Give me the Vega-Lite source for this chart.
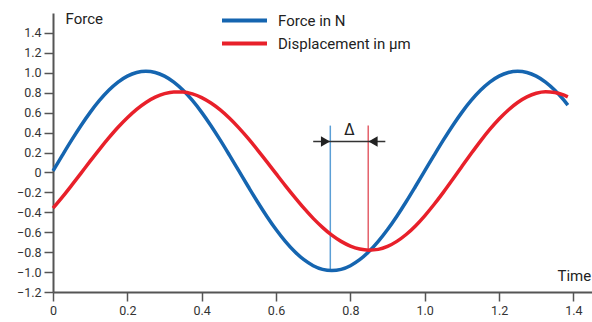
{
  "$schema": "https://vega.github.io/schema/vega-lite/v6.json",
  "width": 539,
  "height": 279,
  "autosize": {"type": "none"},
  "padding": {"left": 53, "top": 13, "right": 0, "bottom": 30},
  "background": "white",
  "config": {
    "view": {"stroke": null},
    "font": "Roboto"
  },
  "datasets": {
    "curves": [
      {"t": 0, "v": 0.015, "s": "Force in N"},
      {"t": 0.025, "v": 0.171, "s": "Force in N"},
      {"t": 0.05, "v": 0.324, "s": "Force in N"},
      {"t": 0.075, "v": 0.469, "s": "Force in N"},
      {"t": 0.1, "v": 0.603, "s": "Force in N"},
      {"t": 0.125, "v": 0.722, "s": "Force in N"},
      {"t": 0.15, "v": 0.824, "s": "Force in N"},
      {"t": 0.175, "v": 0.906, "s": "Force in N"},
      {"t": 0.2, "v": 0.966, "s": "Force in N"},
      {"t": 0.225, "v": 1.003, "s": "Force in N"},
      {"t": 0.25, "v": 1.015, "s": "Force in N"},
      {"t": 0.275, "v": 1.003, "s": "Force in N"},
      {"t": 0.3, "v": 0.966, "s": "Force in N"},
      {"t": 0.325, "v": 0.906, "s": "Force in N"},
      {"t": 0.35, "v": 0.824, "s": "Force in N"},
      {"t": 0.375, "v": 0.722, "s": "Force in N"},
      {"t": 0.4, "v": 0.603, "s": "Force in N"},
      {"t": 0.425, "v": 0.469, "s": "Force in N"},
      {"t": 0.45, "v": 0.324, "s": "Force in N"},
      {"t": 0.475, "v": 0.171, "s": "Force in N"},
      {"t": 0.5, "v": 0.015, "s": "Force in N"},
      {"t": 0.525, "v": -0.141, "s": "Force in N"},
      {"t": 0.55, "v": -0.294, "s": "Force in N"},
      {"t": 0.575, "v": -0.439, "s": "Force in N"},
      {"t": 0.6, "v": -0.573, "s": "Force in N"},
      {"t": 0.625, "v": -0.692, "s": "Force in N"},
      {"t": 0.65, "v": -0.794, "s": "Force in N"},
      {"t": 0.675, "v": -0.876, "s": "Force in N"},
      {"t": 0.7, "v": -0.936, "s": "Force in N"},
      {"t": 0.725, "v": -0.973, "s": "Force in N"},
      {"t": 0.75, "v": -0.985, "s": "Force in N"},
      {"t": 0.775, "v": -0.973, "s": "Force in N"},
      {"t": 0.8, "v": -0.936, "s": "Force in N"},
      {"t": 0.825, "v": -0.876, "s": "Force in N"},
      {"t": 0.85, "v": -0.794, "s": "Force in N"},
      {"t": 0.875, "v": -0.692, "s": "Force in N"},
      {"t": 0.9, "v": -0.573, "s": "Force in N"},
      {"t": 0.925, "v": -0.439, "s": "Force in N"},
      {"t": 0.95, "v": -0.294, "s": "Force in N"},
      {"t": 0.975, "v": -0.141, "s": "Force in N"},
      {"t": 1.0, "v": 0.015, "s": "Force in N"},
      {"t": 1.025, "v": 0.171, "s": "Force in N"},
      {"t": 1.05, "v": 0.324, "s": "Force in N"},
      {"t": 1.075, "v": 0.469, "s": "Force in N"},
      {"t": 1.1, "v": 0.603, "s": "Force in N"},
      {"t": 1.125, "v": 0.722, "s": "Force in N"},
      {"t": 1.15, "v": 0.824, "s": "Force in N"},
      {"t": 1.175, "v": 0.906, "s": "Force in N"},
      {"t": 1.2, "v": 0.966, "s": "Force in N"},
      {"t": 1.225, "v": 1.003, "s": "Force in N"},
      {"t": 1.25, "v": 1.015, "s": "Force in N"},
      {"t": 1.275, "v": 1.003, "s": "Force in N"},
      {"t": 1.3, "v": 0.966, "s": "Force in N"},
      {"t": 1.325, "v": 0.906, "s": "Force in N"},
      {"t": 1.35, "v": 0.824, "s": "Force in N"},
      {"t": 1.375, "v": 0.722, "s": "Force in N"},
      {"t": 1.385, "v": 0.676, "s": "Force in N"},
      {"t": 0, "v": -0.359, "s": "Displacement in µm"},
      {"t": 0.025, "v": -0.248, "s": "Displacement in µm"},
      {"t": 0.05, "v": -0.13, "s": "Displacement in µm"},
      {"t": 0.075, "v": -0.009, "s": "Displacement in µm"},
      {"t": 0.1, "v": 0.113, "s": "Displacement in µm"},
      {"t": 0.125, "v": 0.232, "s": "Displacement in µm"},
      {"t": 0.15, "v": 0.346, "s": "Displacement in µm"},
      {"t": 0.175, "v": 0.453, "s": "Displacement in µm"},
      {"t": 0.2, "v": 0.549, "s": "Displacement in µm"},
      {"t": 0.225, "v": 0.633, "s": "Displacement in µm"},
      {"t": 0.25, "v": 0.702, "s": "Displacement in µm"},
      {"t": 0.275, "v": 0.755, "s": "Displacement in µm"},
      {"t": 0.3, "v": 0.791, "s": "Displacement in µm"},
      {"t": 0.325, "v": 0.808, "s": "Displacement in µm"},
      {"t": 0.35, "v": 0.807, "s": "Displacement in µm"},
      {"t": 0.375, "v": 0.788, "s": "Displacement in µm"},
      {"t": 0.4, "v": 0.751, "s": "Displacement in µm"},
      {"t": 0.425, "v": 0.696, "s": "Displacement in µm"},
      {"t": 0.45, "v": 0.627, "s": "Displacement in µm"},
      {"t": 0.475, "v": 0.543, "s": "Displacement in µm"},
      {"t": 0.5, "v": 0.447, "s": "Displacement in µm"},
      {"t": 0.525, "v": 0.341, "s": "Displacement in µm"},
      {"t": 0.55, "v": 0.227, "s": "Displacement in µm"},
      {"t": 0.575, "v": 0.109, "s": "Displacement in µm"},
      {"t": 0.6, "v": -0.012, "s": "Displacement in µm"},
      {"t": 0.625, "v": -0.132, "s": "Displacement in µm"},
      {"t": 0.65, "v": -0.248, "s": "Displacement in µm"},
      {"t": 0.675, "v": -0.359, "s": "Displacement in µm"},
      {"t": 0.7, "v": -0.461, "s": "Displacement in µm"},
      {"t": 0.725, "v": -0.551, "s": "Displacement in µm"},
      {"t": 0.75, "v": -0.63, "s": "Displacement in µm"},
      {"t": 0.775, "v": -0.692, "s": "Displacement in µm"},
      {"t": 0.8, "v": -0.739, "s": "Displacement in µm"},
      {"t": 0.825, "v": -0.769, "s": "Displacement in µm"},
      {"t": 0.85, "v": -0.78, "s": "Displacement in µm"},
      {"t": 0.875, "v": -0.772, "s": "Displacement in µm"},
      {"t": 0.9, "v": -0.742, "s": "Displacement in µm"},
      {"t": 0.925, "v": -0.692, "s": "Displacement in µm"},
      {"t": 0.95, "v": -0.623, "s": "Displacement in µm"},
      {"t": 0.975, "v": -0.537, "s": "Displacement in µm"},
      {"t": 1.0, "v": -0.435, "s": "Displacement in µm"},
      {"t": 1.025, "v": -0.322, "s": "Displacement in µm"},
      {"t": 1.05, "v": -0.2, "s": "Displacement in µm"},
      {"t": 1.075, "v": -0.071, "s": "Displacement in µm"},
      {"t": 1.1, "v": 0.06, "s": "Displacement in µm"},
      {"t": 1.125, "v": 0.189, "s": "Displacement in µm"},
      {"t": 1.15, "v": 0.314, "s": "Displacement in µm"},
      {"t": 1.175, "v": 0.431, "s": "Displacement in µm"},
      {"t": 1.2, "v": 0.536, "s": "Displacement in µm"},
      {"t": 1.225, "v": 0.627, "s": "Displacement in µm"},
      {"t": 1.25, "v": 0.702, "s": "Displacement in µm"},
      {"t": 1.275, "v": 0.758, "s": "Displacement in µm"},
      {"t": 1.3, "v": 0.795, "s": "Displacement in µm"},
      {"t": 1.325, "v": 0.81, "s": "Displacement in µm"},
      {"t": 1.35, "v": 0.803, "s": "Displacement in µm"},
      {"t": 1.375, "v": 0.775, "s": "Displacement in µm"},
      {"t": 1.385, "v": 0.758, "s": "Displacement in µm"}
    ]
  },
  "layer": [
    {
      "data": {"values": [{"t": 0.746, "y1": 0.47, "y2": -0.985}]},
      "mark": {"type": "rule", "color": "#5b9fd6", "strokeWidth": 1.5},
      "encoding": {
        "x": {"field": "t", "type": "quantitative"},
        "y": {"field": "y1", "type": "quantitative"},
        "y2": {"field": "y2"}
      }
    },
    {
      "data": {"values": [{"t": 0.848, "y1": 0.47, "y2": -0.78}]},
      "mark": {"type": "rule", "color": "#e4606a", "strokeWidth": 1.5},
      "encoding": {
        "x": {"field": "t", "type": "quantitative"},
        "y": {"field": "y1", "type": "quantitative"},
        "y2": {"field": "y2"}
      }
    },
    {
      "data": {"values": [{"t1": 0.70, "t2": 0.894, "y": 0.31}]},
      "mark": {"type": "rule", "color": "#333333", "strokeWidth": 1.5},
      "encoding": {
        "x": {"field": "t1", "type": "quantitative"},
        "x2": {"field": "t2"},
        "y": {"field": "y", "type": "quantitative"}
      }
    },
    {
      "data": {"values": [{"t": 0.733, "y": 0.31}]},
      "mark": {"type": "point", "shape": "triangle-right", "filled": true, "color": "#222222", "size": 110, "opacity": 1},
      "encoding": {
        "x": {"field": "t", "type": "quantitative"},
        "y": {"field": "y", "type": "quantitative"}
      }
    },
    {
      "data": {"values": [{"t": 0.861, "y": 0.31}]},
      "mark": {"type": "point", "shape": "triangle-left", "filled": true, "color": "#222222", "size": 110, "opacity": 1},
      "encoding": {
        "x": {"field": "t", "type": "quantitative"},
        "y": {"field": "y", "type": "quantitative"}
      }
    },
    {
      "data": {"values": [{"t": 0.797, "y": 0.43, "label": "Δ"}]},
      "mark": {"type": "text", "font": "DejaVu Sans", "fontSize": 15, "color": "#222222", "baseline": "middle", "align": "center"},
      "encoding": {
        "x": {"field": "t", "type": "quantitative"},
        "y": {"field": "y", "type": "quantitative"},
        "text": {"field": "label"}
      }
    },
    {
      "data": {"name": "curves"},
      "mark": {"type": "line", "strokeWidth": 3.5, "interpolate": "monotone"},
      "encoding": {
        "x": {
          "field": "t", "type": "quantitative",
          "scale": {"domain": [0, 1.45], "nice": false, "zero": false},
          "axis": {
            "values": [0, 0.2, 0.4, 0.6, 0.8, 1.0, 1.2, 1.4],
            "tickCount": 20,
            "labelExpr": "datum.value == 0 ? '0' : format(datum.value, '.1f')",
            "labelOverlap": false,
            "grid": false,
            "domainColor": "#555555", "domainWidth": 2,
            "tickColor": "#555555", "tickWidth": 1.5, "tickSize": 9,
            "labelColor": "#333333", "labelFontSize": 12.5, "labelPadding": 3,
            "labelFlush": false,
            "title": "Time", "titleFontSize": 15, "titleFontWeight": "normal", "titleColor": "#222222",
            "titleAnchor": "end", "titleAlign": "left", "titleBaseline": "middle", "titleX": 504, "titleY": -17
          }
        },
        "y": {
          "field": "v", "type": "quantitative",
          "scale": {"domain": [-1.2, 1.6], "nice": false, "zero": false},
          "axis": {
            "values": [-1.2, -1.0, -0.8, -0.6, -0.4, -0.2, 0, 0.2, 0.4, 0.6, 0.8, 1.0, 1.2, 1.4],
            "tickCount": 20,
            "labelExpr": "datum.value == 0 ? '0' : format(datum.value, '.1f')",
            "labelOverlap": false,
            "grid": false,
            "domainColor": "#555555", "domainWidth": 2,
            "tickColor": "#555555", "tickWidth": 1.5, "tickSize": 9,
            "labelColor": "#333333", "labelFontSize": 12.5, "labelPadding": 3,
            "labelFlush": false,
            "title": "Force", "titleAngle": 0, "titleFontSize": 15, "titleFontWeight": "normal", "titleColor": "#222222",
            "titleAlign": "left", "titleBaseline": "middle", "titleX": 12, "titleY": 5
          }
        },
        "color": {
          "field": "s", "type": "nominal",
          "scale": {"domain": ["Force in N", "Displacement in µm"], "range": ["#1565b0", "#e8202a"]},
          "legend": {
            "title": null,
            "orient": "none",
            "legendX": 167,
            "legendY": -4,
            "symbolType": "stroke",
            "symbolSize": 2025,
            "symbolStrokeWidth": 4,
            "labelFontSize": 15,
            "labelColor": "#222222",
            "labelOffset": 9,
            "clipHeight": 23,
            "rowPadding": 0
          }
        }
      }
    }
  ]
}
